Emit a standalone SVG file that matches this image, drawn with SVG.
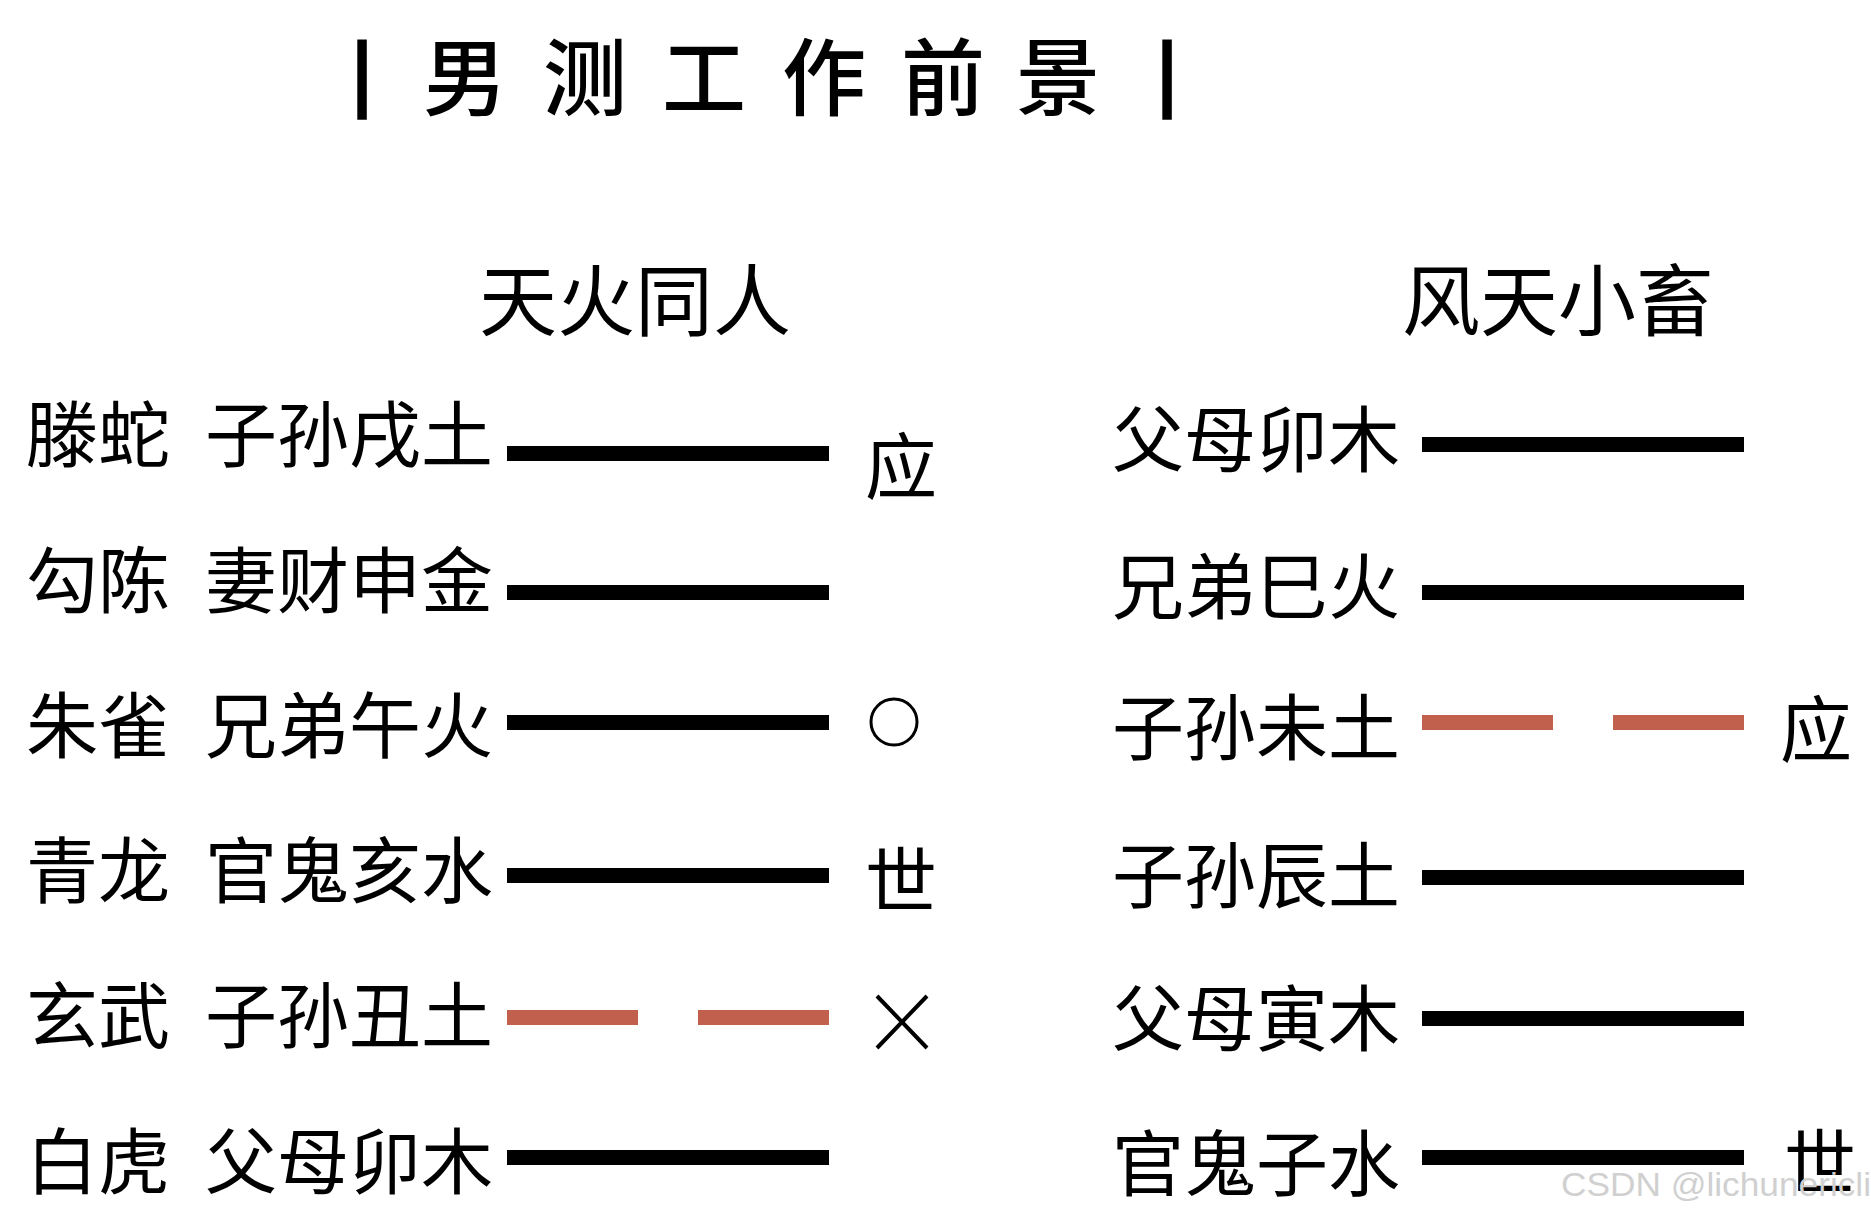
<svg xmlns="http://www.w3.org/2000/svg" width="1871" height="1216" viewBox="0 0 1871 1216">
<style>
  text { font-family: "Noto Sans CJK SC", "Noto Sans", sans-serif; fill: #000; }
  .title { font-size: 84px; font-weight: 500; }
  .bar { font-size: 68px; font-weight: 700; stroke: #000; stroke-width: 3px; }
  .sub { font-size: 78px; }
  .lbl { font-size: 72px; }
  .yang { fill: #000; }
  .yin { fill: #C0604D; }
  .wm { font-family: "Liberation Sans", sans-serif; font-size: 33px; fill: #d0d0d0; }
</style>
<rect width="1871" height="1216" fill="#fff"/>
<g id="title">
  <text class="bar" x="362" y="69" text-anchor="middle" dominant-baseline="central">|</text>
  <text class="title" x="465 585 704 824 943 1058" y="72" text-anchor="middle" dominant-baseline="central">男测工作前景</text>
  <text class="bar" x="1167" y="69" text-anchor="middle" dominant-baseline="central">|</text>
</g>
<g id="hex-left">
  <text class="sub" x="635" y="296" text-anchor="middle" dominant-baseline="central">天火同人</text>
  <g id="L1"><text class="lbl" x="26" y="429" dominant-baseline="central">滕蛇</text><text class="lbl" x="205" y="429" dominant-baseline="central">子孙戌土</text><text class="lbl" x="865" y="461" dominant-baseline="central">应</text></g>
  <g id="L2"><text class="lbl" x="26" y="575" dominant-baseline="central">勾陈</text><text class="lbl" x="205" y="575" dominant-baseline="central">妻财申金</text></g>
  <g id="L3"><text class="lbl" x="26" y="720" dominant-baseline="central">朱雀</text><text class="lbl" x="205" y="720" dominant-baseline="central">兄弟午火</text><circle cx="894" cy="722" r="23" fill="none" stroke="#000" stroke-width="3"/></g>
  <g id="L4"><text class="lbl" x="26" y="865" dominant-baseline="central">青龙</text><text class="lbl" x="205" y="865" dominant-baseline="central">官鬼亥水</text><text class="lbl" x="865" y="875" dominant-baseline="central">世</text></g>
  <g id="L5"><text class="lbl" x="26" y="1010" dominant-baseline="central">玄武</text><text class="lbl" x="205" y="1010" dominant-baseline="central">子孙丑土</text><path d="M877 996 L927 1048 M927 996 L877 1048" stroke="#000" stroke-width="4" fill="none"/></g>
  <g id="L6"><text class="lbl" x="26" y="1156" dominant-baseline="central">白虎</text><text class="lbl" x="205" y="1156" dominant-baseline="central">父母卯木</text></g>
</g>
<g id="hex-right">
  <text class="sub" x="1558" y="296" text-anchor="middle" dominant-baseline="central">风天小畜</text>
  <g id="R1"><text class="lbl" x="1112" y="434" dominant-baseline="central">父母卯木</text></g>
  <g id="R2"><text class="lbl" x="1112" y="581" dominant-baseline="central">兄弟巳火</text></g>
  <g id="R3"><text class="lbl" x="1112" y="722" dominant-baseline="central">子孙未土</text><text class="lbl" x="1780" y="724" dominant-baseline="central">应</text></g>
  <g id="R4"><text class="lbl" x="1112" y="870" dominant-baseline="central">子孙辰土</text></g>
  <g id="R5"><text class="lbl" x="1112" y="1013" dominant-baseline="central">父母寅木</text></g>
  <g id="R6"><text class="lbl" x="1112" y="1158" dominant-baseline="central">官鬼子水</text><text class="lbl" x="1784" y="1157" dominant-baseline="central">世</text></g>
</g>
<g id="connectors">
  <rect class="yang" x="507" y="446" width="322" height="15"/>
  <rect class="yang" x="507" y="585" width="322" height="15"/>
  <rect class="yang" x="507" y="715" width="322" height="15"/>
  <rect class="yang" x="507" y="868" width="322" height="15"/>
  <rect class="yin" x="507" y="1010" width="131" height="15"/>
  <rect class="yin" x="698" y="1010" width="131" height="15"/>
  <rect class="yang" x="507" y="1150" width="322" height="15"/>
  <rect class="yang" x="1422" y="437" width="322" height="15"/>
  <rect class="yang" x="1422" y="585" width="322" height="15"/>
  <rect class="yin" x="1422" y="715" width="131" height="15"/>
  <rect class="yin" x="1613" y="715" width="131" height="15"/>
  <rect class="yang" x="1422" y="870" width="322" height="15"/>
  <rect class="yang" x="1422" y="1011" width="322" height="15"/>
  <rect class="yang" x="1422" y="1150" width="322" height="15"/>
</g>
<text class="wm" x="1561" y="1196" textLength="310" lengthAdjust="spacingAndGlyphs">CSDN @lichunericli</text>
</svg>
